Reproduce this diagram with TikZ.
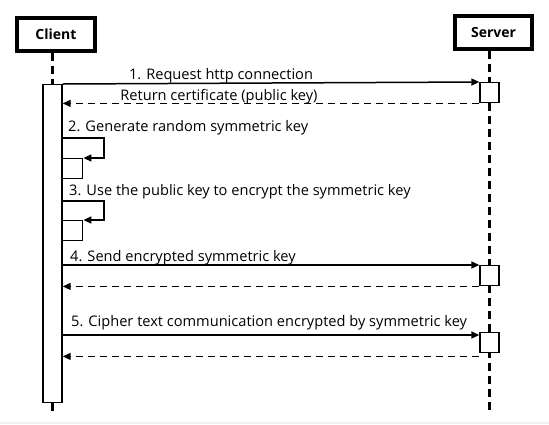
\documentclass[tikz,border=0pt]{standalone}
\usepackage{fontspec}
\setmainfont{Open Sans}
\usetikzlibrary{arrows.meta}
\begin{document}
\begin{tikzpicture}[x=1pt,y=-1pt,
  hdr/.style={draw, line width=3.8pt, font=\bfseries\fontsize{14}{16}\selectfont, inner sep=0pt},
  actbox/.style={draw, fill=white, line width=1.4pt, inner sep=0pt, minimum width=19pt, minimum height=20pt},
  lbl/.style={font=\fontsize{14.6}{16}\selectfont, inner sep=0pt},
  msg/.style={line width=1.5pt, -{Triangle[length=8pt,width=7pt]}},
  ret/.style={msg, dash pattern=on 7pt off 5pt},
  life/.style={line width=2.1pt, dash pattern=on 8pt off 5pt}]
\useasboundingbox (0,0) rectangle (549,424);
\fill[gray!12] (0,422) rectangle (549,424);
% headers
\node[hdr, minimum width=78pt, minimum height=33pt] (client) at (56,34.5) {Client};
\node[hdr, minimum width=77pt, minimum height=33pt] (server) at (493.5,32.5) {Server};
% server lifeline (behind boxes)
\coordinate (sbot) at (489.5,413);
\draw[life] (server.south -| sbot) -- (sbot);
% client activation bar
\node[draw, fill=white, line width=1.4pt, inner sep=0pt, minimum width=19pt, minimum height=318pt, anchor=north] (cbar) at (52.5,84) {};
\draw[life] (client.south -| cbar.north) -- (cbar.north);
\draw[life] (cbar.south) -- ++(0,11);
% server activation boxes
\node[actbox, anchor=north] (s1) at (489.5,82) {};
\node[actbox, anchor=north] (s2) at (489.5,265) {};
\node[actbox, anchor=north] (s3) at (489.5,332) {};
% self boxes
\node[actbox, minimum width=20pt, anchor=north west] (l1) at (62,158) {};
\node[actbox, minimum width=20pt, anchor=north west] (l2) at (62,220) {};
% labels
\node[lbl, anchor=base] (t1) at (221,79.5) {1. Request http connection};
\node[lbl, anchor=base] (t1r) at (219,100) {Return certificate (public key)};
\node[lbl, anchor=base west] (t2) at (68,131.5) {2. Generate random symmetric key};
\node[lbl, anchor=base west] (t3) at (69,195) {3. Use the public key to encrypt the symmetric key};
\node[lbl, anchor=base west] (t4) at (70,261) {4. Send encrypted symmetric key};
\node[lbl, anchor=base west] (t5) at (71,326.5) {5. Cipher text communication encrypted by symmetric key};
% messages
\draw[msg] (cbar.north east) -- (s1.north west);
\draw[ret] (s1.south west) -- (s1.south west -| cbar.east);
\coordinate (lp1) at (62,138);
\draw[msg] (lp1) -| ++(42,20) -- (l1.north east);
\coordinate (lp2) at (62,201);
\draw[msg] (lp2) -| ++(42,19) -- (l2.north east);
\draw[msg] (s2.north west -| cbar.east) -- (s2.north west);
\draw[ret] (s2.south west) -- (s2.south west -| cbar.east);
\draw[msg] ([yshift=-3pt]s3.north west -| cbar.east) -- ([yshift=-3pt]s3.north west);
\draw[ret] ([yshift=-3pt]s3.south west) -- ([yshift=-3pt]s3.south west -| cbar.east);
\end{tikzpicture}
\end{document}
